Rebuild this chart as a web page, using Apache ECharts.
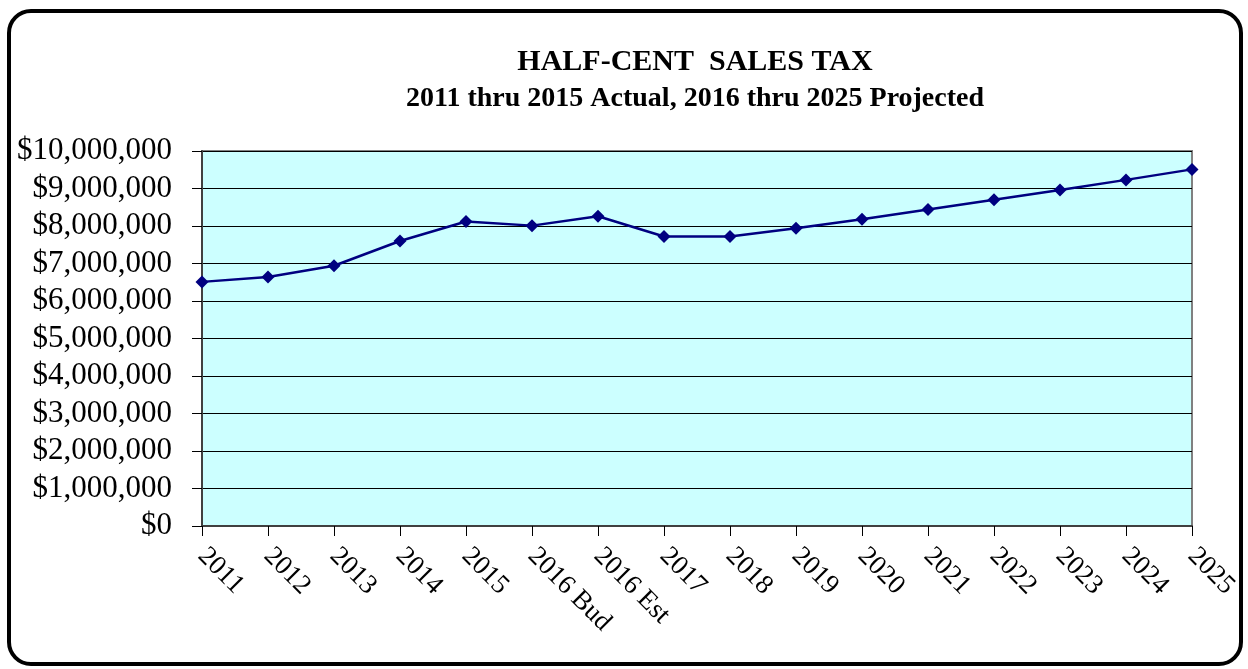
<!DOCTYPE html>
<html>
<head>
<meta charset="utf-8">
<script src="https://cdn.jsdelivr.net/npm/echarts@6/dist/echarts.min.js"></script>
<style>
  html, body { margin: 0; padding: 0; background: #fff; }
  #chart { width: 1248px; height: 669px; }
</style>
</head>
<body>
<div id="chart"></div>
<script>
// years on the x axis
var years = ['2011', '2012', '2013', '2014', '2015', '2016 Bud', '2016 Est', '2017',
             '2018', '2019', '2020', '2021', '2022', '2023', '2024', '2025'];
// half-cent sales tax revenue ($)
var revenue = [6510000, 6640000, 6940000, 7600000, 8120000, 8010000, 8260000, 7720000,
               7720000, 7940000, 8180000, 8440000, 8700000, 8960000, 9230000, 9510000];

var chart = echarts.init(document.getElementById('chart'));
var serif = '"Liberation Serif", "Times New Roman", serif';

chart.setOption({
    animation: false,
    title: {
        text: 'HALF-CENT  SALES TAX',
        subtext: '2011 thru 2015 Actual, 2016 thru 2025 Projected',
        left: 690,
        top: 42,
        textAlign: 'center',
        itemGap: 8,
        textStyle: { fontFamily: serif, fontSize: 30, fontWeight: 'bold', color: '#000' },
        subtextStyle: { fontFamily: serif, fontSize: 28, fontWeight: 'bold', color: '#000' }
    },
    graphic: [{
        type: 'rect',
        shape: { x: 9, y: 11, width: 1232, height: 653, r: 22 },
        style: { fill: 'none', stroke: '#000', lineWidth: 4 },
        silent: true
    }],
    grid: {
        left: 202,
        top: 151,
        right: 56,
        bottom: 143,
        show: true,
        backgroundColor: '#CCFFFF',
        borderColor: '#808080',
        borderWidth: 2
    },
    xAxis: {
        type: 'category',
        data: years,
        boundaryGap: false,
        axisLine: { lineStyle: { color: '#404040', width: 2 } },
        axisTick: { show: true, length: 10, lineStyle: { color: '#000' } },
        axisLabel: {
            rotate: -45,
            margin: 26,
            interval: 0,
            fontFamily: serif,
            fontSize: 27,
            color: '#000'
        },
        splitLine: { show: false }
    },
    yAxis: {
        type: 'value',
        min: 0,
        max: 10000000,
        interval: 1000000,
        axisLine: { show: true, lineStyle: { color: '#404040', width: 2 } },
        axisTick: { show: true, length: 10, lineStyle: { color: '#000' } },
        axisLabel: {
            margin: 30,
            fontFamily: serif,
            fontSize: 31,
            color: '#000',
            formatter: function (v) {
                return '$' + v.toLocaleString('en-US');
            }
        },
        splitLine: { lineStyle: { color: '#000', width: 1 } }
    },
    series: [{
        name: 'Half-Cent Sales Tax',
        type: 'line',
        data: revenue,
        symbol: 'diamond',
        symbolSize: 13,
        lineStyle: { color: '#000080', width: 2.5 },
        itemStyle: { color: '#000080' }
    }]
});
</script>
</body>
</html>
